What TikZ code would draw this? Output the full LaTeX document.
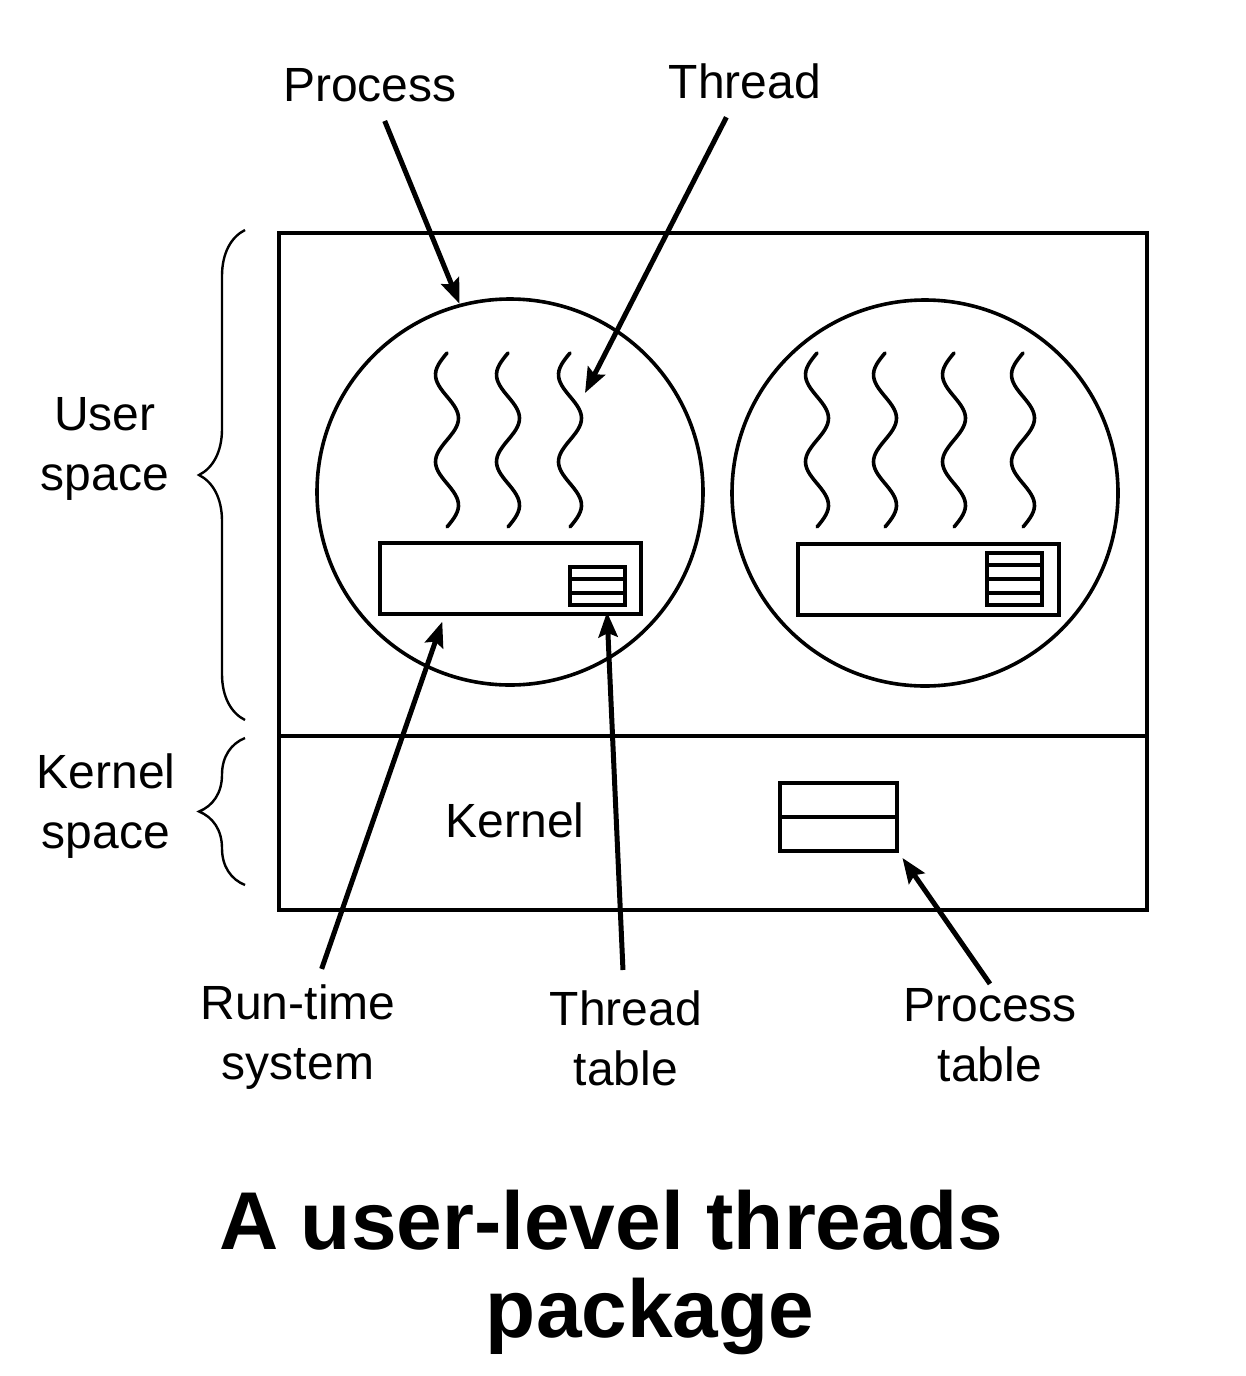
\documentclass[tikz,border=0pt]{standalone}
\usepackage{fontspec}
\setmainfont{Liberation Sans}
\usetikzlibrary{arrows.meta,calc,decorations.pathreplacing}

\begin{document}
\begin{tikzpicture}[x=0.5pt,y=-0.5pt,
  frm/.style={draw=black,line width=2pt},
  proc/.style={circle,draw=black,line width=1.8pt,minimum size=193pt,inner sep=0pt},
  rts/.style={rectangle,draw=black,line width=2pt,minimum width=130.5pt,minimum height=35.5pt,inner sep=0pt},
  tbl/.style={rectangle,draw=black,line width=2pt,minimum width=27.5pt,inner sep=0pt},
  row/.style={line width=2pt},
  wave/.style={line width=1.8pt,line cap=round},
  ar/.style={-{Stealth[length=12.5pt,width=9.5pt,inset=2pt]},line width=2.5pt},
  brc/.style={decorate,decoration={brace,amplitude=23pt},line width=1.2pt},
  lab/.style={font=\fontsize{24}{30}\selectfont,align=center,inner sep=2pt}]
\useasboundingbox (0,0) rectangle (1246,1376);

% ---------- the machine: user space over kernel space ----------
\draw[frm] (279,233) rectangle (1147,910);
\draw[frm] (279,736) -- (1147,736);
\draw[brc] (245,720) -- (245,230);
\draw[brc,decoration={aspect=0.5}] (245,885) -- (245,738);
\node[lab] (usr) at (105,449) {User\\space};
\node[lab] (ksp) at (106,806) {Kernel\\space};
\node[lab] (krn) at (515,820) {Kernel};

% ---------- two processes, each with its own threads ----------
\node[proc] (p1) at (510,492) {};
\node[proc] (p2) at (925,493) {};
\foreach \wx in {447,508,570}
  \draw[wave] plot[domain=0:1,samples=60,smooth,variable=\t] ({\wx-11.5*sin(720*\t)},{353+174*\t});
\foreach \wx in {817,885,954,1023}
  \draw[wave] plot[domain=0:1,samples=60,smooth,variable=\t] ({\wx-11.5*sin(720*\t)},{353+174*\t});

% run-time system with its thread table
\node[rts] (rt1) at (510.5,578.5) {};
\node[rts] (rt2) at (928,579) {};
\node[tbl,minimum height=19pt] (tt1) at (597.5,586) {};
\node[tbl,minimum height=26pt] (tt2) at (1014.5,579) {};
\foreach \k in {1,2}
  \draw[row] ($(tt1.north west)!\k/3!(tt1.south west)$) -- ($(tt1.north east)!\k/3!(tt1.south east)$);
\foreach \k in {1,2,3}
  \draw[row] ($(tt2.north west)!\k/4!(tt2.south west)$) -- ($(tt2.north east)!\k/4!(tt2.south east)$);

% process table in the kernel
\node[tbl,minimum width=58.5pt,minimum height=34pt] (ptab) at (838.5,817) {};
\draw[row] (ptab.west) -- (ptab.east);

% ---------- labels and arrows ----------
\coordinate (thr) at (585,393);
\coordinate (ttpt) at (607,612);
\node[lab] (proclab) at (370,85) {Process};
\node[lab] (thrlab) at (745,81) {Thread};
\node[lab] (rtlab) at (298,1037) {Run-time\\system};
\node[lab] (ttlab) at (626,1038) {Thread\\table};
\node[lab] (ptlab) at (990,1035) {Process\\table};
\draw[ar,shorten <=8pt] (proclab) -- (p1.105);
\draw[ar,shorten <=8pt] (thrlab) -- (thr);
\draw[ar,shorten <=6pt,shorten >=3pt] (rtlab) -- ($(rt1.south west)!0.25!(rt1.south east)$);
\draw[ar,shorten <=8pt] (ttlab) -- (ttpt);
\draw[ar,shorten >=3pt] (ptlab.north) -- (ptab.south east);

% ---------- caption ----------
\node[font=\fontsize{41}{44}\selectfont\bfseries,align=center,inner sep=0pt] (title) at (611,1272)
  {A user-level threads\\\hspace*{39pt}package};
\end{tikzpicture}
\end{document}
